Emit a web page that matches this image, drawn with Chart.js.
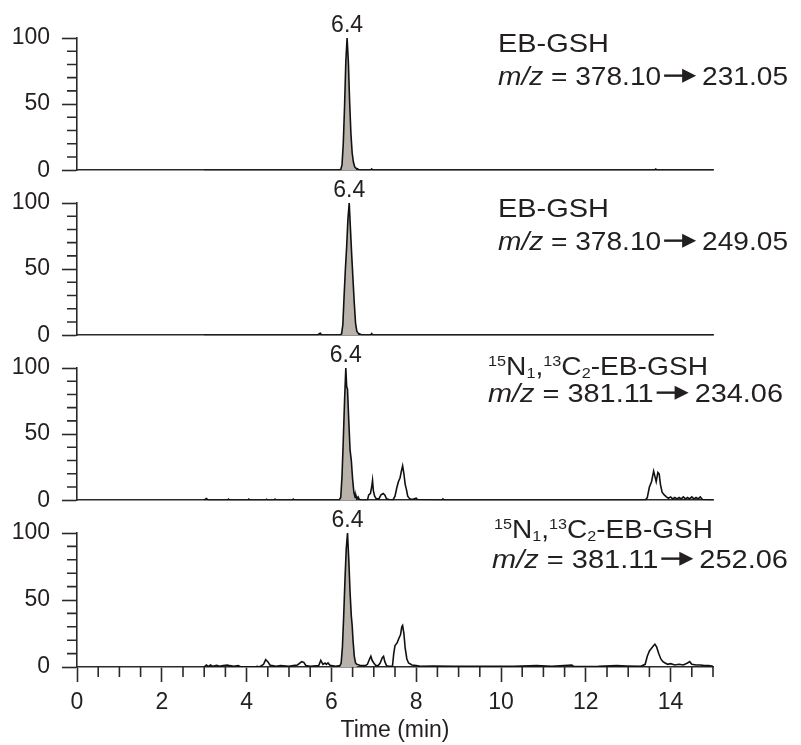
<!DOCTYPE html>
<html>
<head>
<meta charset="utf-8">
<script src="https://cdn.jsdelivr.net/npm/chart.js@4.4.1/dist/chart.umd.min.js"></script>
<style>
  html, body { margin: 0; padding: 0; background: #fff; }
  #wrap { position: relative; width: 801px; height: 745px; overflow: hidden; }
  #wrap canvas { position: absolute; left: 0; }
</style>
</head>
<body>
<div id="wrap"></div>
<script>
// ---- data ----
const X_MIN = 0, X_MAX = 15;
const xMajorStep = 2, xMinorStep = 0.5;
const yMajorStep = 50, yMinorStep = 10;

// EB-GSH, 378.10 -> 231.05
const time1 = [3.0, 6.18, 6.22, 6.25, 6.28, 6.31, 6.34, 6.37, 6.40, 6.43, 6.46, 6.49, 6.52, 6.55, 6.58, 6.61, 6.64, 6.68, 6.92, 6.95, 6.98, 13.62, 13.65, 13.68, 15.0];
const int1  = [0,   0,    0.5,  4,    20,   48,   82,   100,  82,   52,   28,   13,   6,    2.5,  1.5,  1.2,  0.6,  0,    0,    1,    0,    0,     0.8,   0,     0];

// EB-GSH, 378.10 -> 249.05
const time2 = [3.0, 5.68, 5.71, 5.74, 5.77, 6.2, 6.24, 6.27, 6.30, 6.33, 6.36, 6.39, 6.42, 6.45, 6.48, 6.51, 6.54, 6.57, 6.60, 6.63, 6.67, 6.72, 6.92, 6.95, 6.98, 15.0];
const int2  = [0,   0,    1.2,  1.5,  0,    0,   1,    8,    30,   50,   67,   88,   100,  80,   60,   42,   24,   9,    3,    1.5,  1,    0,    0,    1.2,  0,    0];

// 15N1,13C2-EB-GSH, 381.11 -> 234.06
const time3 = [3.0, 3.05, 3.1, 3.55, 3.57, 3.6, 4.03, 4.05, 4.08, 4.45, 4.47, 4.5, 4.65, 4.67, 4.7, 5.08, 5.1, 5.13,
  6.18, 6.22, 6.25, 6.28, 6.31, 6.34, 6.36, 6.38, 6.41, 6.44, 6.47, 6.50, 6.53, 6.56, 6.58, 6.60, 6.63, 6.66, 6.70,
  6.85, 6.88, 6.92, 6.95, 6.97, 6.99, 7.02, 7.06, 7.12, 7.17, 7.22, 7.26, 7.30, 7.36, 7.45,
  7.50, 7.54, 7.58, 7.62, 7.65, 7.68, 7.71, 7.74, 7.77, 7.80, 7.85, 7.90, 8.00, 8.03, 8.60, 8.63, 8.66,
  13.40, 13.45, 13.50, 13.55, 13.60, 13.63, 13.66, 13.70, 13.73, 13.76, 13.80, 13.85, 13.90, 13.95,
  14.00, 14.05, 14.10, 14.15, 14.20, 14.25, 14.30, 14.35, 14.40, 14.45, 14.50, 14.55, 14.60, 14.65, 14.70, 14.75, 15.0];
const int3  = [0, 1.2, 0, 0, 0.8, 0, 0, 0.8, 0, 0, 0.7, 0, 0, 0.8, 0, 0, 0.8, 0,
  0, 2, 18, 45, 75, 100, 86, 84, 60, 38, 30, 16, 6, 2, 3.5, 1, 2.5, 0.5, 0,
  0, 4, 5, 10, 15, 7, 3, 1, 1, 4, 5, 4, 1, 0.5, 0,
  3, 9, 14, 17, 22, 26, 20, 12, 8, 3, 1, 0.5, 1.5, 0.5, 0, 1, 0,
  0, 2, 10, 14, 22, 18, 14, 21, 20, 12, 6, 4, 2.5, 1.5,
  2.5, 1, 2, 1, 2, 1, 2.5, 1, 2, 1, 2.5, 1, 2, 1, 2.5, 0.5, 0];

// 15N1,13C2-EB-GSH, 381.11 -> 252.06
const time4 = [3.0, 3.05, 3.1, 3.15, 3.2, 3.3, 3.35, 3.45, 3.55, 3.6, 3.7, 3.8, 3.85, 4.2, 4.25, 4.3, 4.4, 4.45, 4.5, 4.55, 4.6, 4.7, 4.8,
  5.0, 5.1, 5.2, 5.3, 5.35, 5.4, 5.5, 5.7, 5.75, 5.8, 5.85, 5.88, 5.92, 5.96, 6.0, 6.1,
  6.2, 6.23, 6.26, 6.29, 6.32, 6.35, 6.38, 6.41, 6.44, 6.47, 6.49, 6.51, 6.54, 6.57, 6.60, 6.65, 6.70, 6.80,
  6.85, 6.90, 6.93, 6.96, 7.00, 7.05, 7.10, 7.15, 7.20, 7.23, 7.26, 7.30, 7.36, 7.44,
  7.47, 7.50, 7.55, 7.60, 7.63, 7.66, 7.68, 7.71, 7.74, 7.78, 7.82, 7.90, 8.00, 8.10,
  8.40, 8.90, 9.40, 10.30, 10.84, 11.20, 11.67, 11.72, 12.30, 12.73, 12.96, 13.30,
  13.40, 13.45, 13.50, 13.55, 13.60, 13.63, 13.67, 13.72, 13.77, 13.82, 13.87, 13.93,
  14.00, 14.10, 14.20, 14.30, 14.40, 14.45, 14.50, 14.60, 14.70, 14.80, 14.90, 15.0];
const int4  = [0, 1.5, 0.5, 1.5, 0.5, 1.2, 0.5, 1, 1.5, 1, 0.5, 1, 0.3, 0, 0.5, 0, 2, 5.5, 4, 1.5, 1, 0.5, 1,
  0.5, 1, 1.5, 4, 3.5, 1, 0.5, 1, 5, 2, 3, 2, 3, 1.5, 1, 0.5,
  1, 3, 15, 38, 65, 88, 100, 80, 56, 38, 31, 20, 8, 3, 2, 1.5, 1, 1,
  2, 6, 8, 5, 3, 1, 1, 3, 7, 8, 4, 1, 0.5, 0.5,
  10, 16, 18, 22, 24, 30, 31, 25, 14, 6, 3, 1.5, 1, 0.5,
  0.8, 0.5, 0.5, 0.5, 1, 0.5, 1.5, 0.3, 0.5, 1, 0.8, 0.5,
  2, 8, 12, 14, 16, 17, 15, 10, 6, 4, 3, 2,
  2.5, 1.5, 2, 1.5, 3, 4, 2, 1.5, 1.5, 1, 1, 0.5];

const times = [time1, time2, time3, time4];
const intensities = [int1, int2, int3, int4];
const peakWindows = [[6.18, 6.60], [6.20, 6.63], [6.18, 6.58], [6.20, 6.60]];
const peakLabels = ['6.4', '6.4', '6.4', '6.4'];
const compounds = [
  [['EB-GSH', 'n']],
  [['EB-GSH', 'n']],
  [['15', 'sup'], ['N', 'n'], ['1', 'sub'], [',', 'n'], ['13', 'sup'], ['C', 'n'], ['2', 'sub'], ['-EB-GSH', 'n']],
  [['15', 'sup'], ['N', 'n'], ['1', 'sub'], [',', 'n'], ['13', 'sup'], ['C', 'n'], ['2', 'sub'], ['-EB-GSH', 'n']]
];
const precursors = ['378.10', '378.10', '381.11', '381.11'];
const products = ['231.05', '249.05', '234.06', '252.06'];
const xTitle = 'Time (min)';

// ---- layout / style ----
const FONT = '"Liberation Sans", Arial, Helvetica, sans-serif';
const TXT = '#231f20', AXIS = '#2a2a2a', INK = '#111', FILL = '#b9b2ab';
const PANEL_TOP = [38, 203, 368, 533];
const PANEL_H = 134, PAD_TOP = 36, PAD_BOTTOM = 24;
// text positions relative to each panel's top edge; w = target line width
const LABELS = [
  { x1: 498, b1: 14, w1: 111, x2: 498, b2: 47, w2: 290 },
  { x1: 498, b1: 14, w1: 111, x2: 498, b2: 47, w2: 290 },
  { x1: 488, b1: 7,  w1: 220, x2: 488, b2: 34, w2: 295 },
  { x1: 494, b1: 5,  w1: 219, x2: 492, b2: 35, w2: 296 }
];
const ARROW = { pre: 3, len: 32, post: 6, head: 14, half: 7 };

function drawRich(ctx, segs, x, base, target) {
  const fs = 26, small = 15;
  const fontOf = k => (k === 'i' ? 'italic ' : '') + ((k === 'sup' || k === 'sub') ? small : fs) + 'px ' + FONT;
  let textW = 0, fixedW = 0;
  segs.forEach(([t, k]) => {
    if (k === 'arrow') fixedW += ARROW.pre + ARROW.len + ARROW.post;
    else { ctx.font = fontOf(k); textW += ctx.measureText(t).width; }
  });
  const sx = (target - fixedW) / textW;
  let cx = x;
  segs.forEach(([t, k]) => {
    if (k === 'arrow') {
      const y = base - fs * 0.36, x0 = cx + ARROW.pre, x1 = x0 + ARROW.len;
      ctx.fillRect(x0, y - 1.2, ARROW.len - ARROW.head + 1, 2.4);
      ctx.beginPath();
      ctx.moveTo(x1 - ARROW.head, y - ARROW.half);
      ctx.lineTo(x1, y);
      ctx.lineTo(x1 - ARROW.head, y + ARROW.half);
      ctx.closePath();
      ctx.fill();
      cx = x1 + ARROW.post;
      return;
    }
    ctx.font = fontOf(k);
    const dy = k === 'sup' ? -9.5 : k === 'sub' ? 3 : 0;
    ctx.save();
    ctx.translate(cx, base + dy);
    ctx.scale(sx, 1);
    ctx.fillText(t, 0, 0);
    ctx.restore();
    cx += ctx.measureText(t).width * sx;
  });
}

function decor(idx) {
  return {
    id: 'decor' + idx,
    afterDraw(chart) {
      const ctx = chart.ctx, xs = chart.scales.x, ys = chart.scales.y, area = chart.chartArea;
      ctx.save();
      // minor ticks
      ctx.strokeStyle = AXIS; ctx.lineWidth = 1.6;
      ctx.beginPath();
      for (let v = yMinorStep; v < 100; v += yMinorStep) {
        if (v % yMajorStep === 0) continue;
        const y = ys.getPixelForValue(v);
        ctx.moveTo(area.left - 10, y); ctx.lineTo(area.left, y);
      }
      if (idx === 3) {
        for (let v = xMinorStep; v <= X_MAX + 1e-9; v += xMinorStep) {
          if (Math.abs(v % xMajorStep) < 1e-9) continue;
          const x = xs.getPixelForValue(v);
          ctx.moveTo(x, area.bottom); ctx.lineTo(x, area.bottom + 10);
        }
      }
      ctx.stroke();

      // retention time label above the shaded peak
      const pk = chart.data.datasets[1].data.reduce((m, p) => p.y > m.y ? p : m);
      ctx.fillStyle = TXT;
      ctx.font = '23px ' + FONT;
      ctx.textAlign = 'center';
      ctx.textBaseline = 'alphabetic';
      ctx.fillText(peakLabels[idx], xs.getPixelForValue(pk.x), area.top - 6);

      // compound + transition
      const L = LABELS[idx];
      ctx.textAlign = 'left';
      drawRich(ctx, compounds[idx], L.x1, area.top + L.b1, L.w1);
      drawRich(ctx, [['m/z', 'i'], [' = ' + precursors[idx], 'n'], ['', 'arrow'], [products[idx], 'n']],
        L.x2, area.top + L.b2, L.w2);
      ctx.restore();
    }
  };
}

const wrap = document.getElementById('wrap');

function makeChart(idx) {
  const isLast = idx === 3;
  const top = PANEL_TOP[idx] - PAD_TOP;
  const h = isLast ? 745 - top : PAD_TOP + PANEL_H + PAD_BOTTOM;
  const canvas = document.createElement('canvas');
  canvas.width = 801; canvas.height = h;
  canvas.style.top = top + 'px';
  wrap.appendChild(canvas);

  const pts = times[idx].map((t, k) => ({ x: t, y: intensities[idx][k] }));
  const [a, b] = peakWindows[idx];
  const peakPts = pts.filter(p => p.x >= a && p.x <= b);

  const xScale = {
    type: 'linear', min: X_MIN, max: X_MAX,
    border: { display: true, color: AXIS, width: 1.6 },
    grid: { drawOnChartArea: false, drawTicks: isLast, tickLength: 15, tickColor: AXIS, tickWidth: 1.6 },
    ticks: {
      display: isLast, stepSize: xMajorStep, includeBounds: false, autoSkip: false, maxRotation: 0,
      padding: 7, color: TXT, font: { family: FONT, size: 23 }
    },
    title: {
      display: isLast, text: xTitle, color: TXT,
      font: { family: FONT, size: 23 }, padding: { top: 0, bottom: 1 }
    },
    afterFit: s => { s.height = isLast ? h - PAD_TOP - PANEL_H : 0; }
  };

  new Chart(canvas, {
    type: 'line',
    data: {
      datasets: [
        { data: pts, borderColor: INK, borderWidth: 1.6, pointRadius: 0, fill: false, tension: 0 },
        { data: peakPts, borderColor: 'rgba(0,0,0,0)', borderWidth: 0, backgroundColor: FILL, fill: 'origin', pointRadius: 0, tension: 0 }
      ]
    },
    options: {
      responsive: false, animation: false, devicePixelRatio: 1,
      layout: { padding: { top: PAD_TOP, bottom: isLast ? 0 : PAD_BOTTOM, left: 0, right: 88 } },
      plugins: { legend: { display: false }, tooltip: { enabled: false } },
      scales: {
        x: xScale,
        y: {
          min: 0, max: 100,
          border: { display: true, color: AXIS, width: 1.6 },
          grid: { drawOnChartArea: false, tickLength: 15, tickColor: AXIS, tickWidth: 1.6 },
          ticks: { stepSize: yMajorStep, padding: 12, color: TXT, font: { family: FONT, size: 23 } },
          afterFit: s => { s.width = 77; }
        }
      }
    },
    plugins: [decor(idx)]
  });
}

[0, 1, 2, 3].forEach(makeChart);
</script>
</body>
</html>
